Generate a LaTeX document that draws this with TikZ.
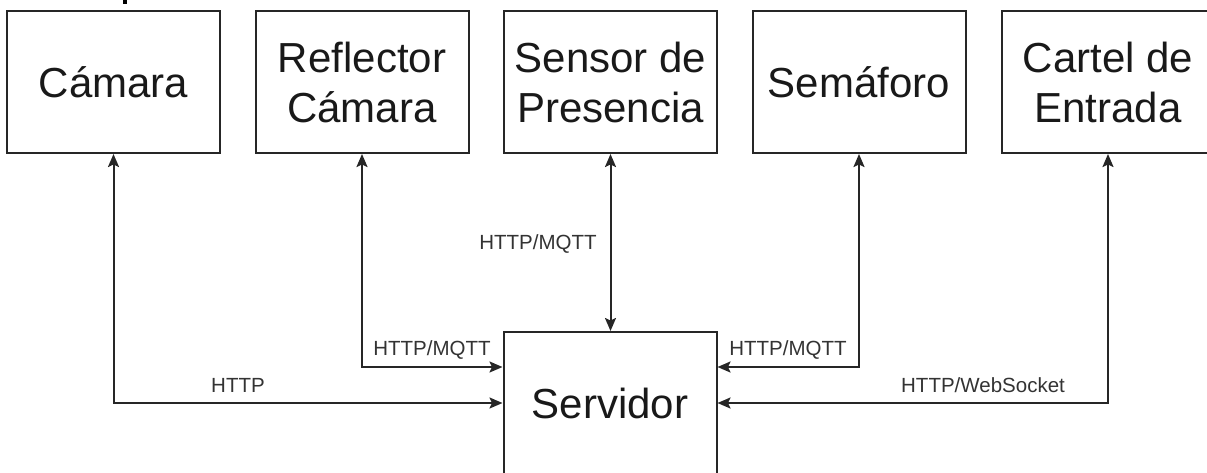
\documentclass[tikz,border=0pt]{standalone}
\usepackage{fontspec}
\setmainfont{Liberation Sans}
\usetikzlibrary{arrows.meta}
\begin{document}
\begin{tikzpicture}[x=1pt,y=-1pt,
  box/.style={draw=black!85, line width=2pt, minimum width=213pt, minimum height=142pt, inner sep=0pt, align=center, font=\fontsize{42}{50}\selectfont, text=black!90},
  link/.style={draw=black!85, line width=2pt, {Stealth[length=13pt,width=11pt,inset=2.5pt]}-{Stealth[length=13pt,width=11pt,inset=2.5pt]}},
  lbl/.style={font=\fontsize{20.5}{24}\selectfont, text=black!80, inner sep=0pt}]
\useasboundingbox (0,0) rectangle (1207,472);
\clip (0,0) rectangle (1207,472);
\fill[black] (123,0) rectangle (127,4);
\node[box] (cam) at (113.5,82) {Cámara};
\node[box] (refl) at (362,82) {Reflector\\Cámara};
\node[box] (sens) at (610.5,82) {Sensor de\\Presencia};
\node[box] (sema) at (859,82) {Semáforo};
\node[box] (cart) at (1108,82) {Cartel de\\Entrada};
\node[box] (srv) at (610,403) {Servidor};
\coordinate (srvLu) at (srv.west |- 0,367);
\coordinate (srvRu) at (srv.east |- 0,367);
\draw[link] (cam.south) |- (srv.west);
\draw[link] (refl.south) |- (srvLu);
\draw[link] (sens.south) -- (sens.south |- srv.north);
\draw[link] (sema.south) |- (srvRu);
\draw[link] (cart.south) |- (srv.east);
\node[lbl] (l1) at (238,385) {HTTP};
\node[lbl] (l2) at (432,350) {HTTP/MQTT};
\node[lbl] (l3) at (538,244) {HTTP/MQTT};
\node[lbl] (l4) at (788,350) {HTTP/MQTT};
\node[lbl] (l5) at (983,385) {HTTP/WebSocket};
\end{tikzpicture}
\end{document}
